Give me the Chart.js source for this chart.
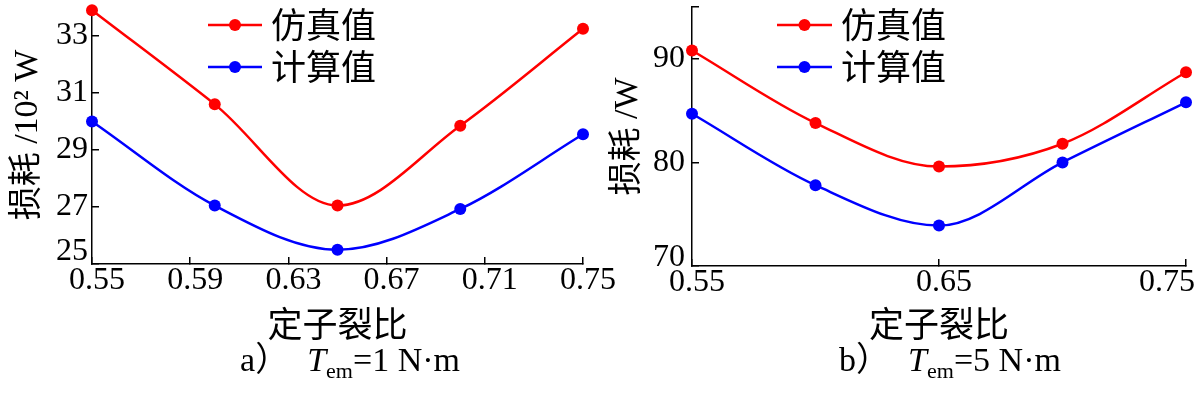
<!DOCTYPE html>
<html>
<head>
<meta charset="utf-8">
<script src="https://cdn.jsdelivr.net/npm/chart.js@4.4.0/dist/chart.umd.min.js"></script>
<style>
  body { margin: 0; background: #fff; }
  #wrap { position: relative; width: 1200px; height: 393px; overflow: hidden; background: #fff; }
  canvas { position: absolute; top: 0; }
  .cap {
    position: absolute; top: 343px; transform: translateX(-50%);
    white-space: nowrap; font: 34px/1 'Liberation Serif', 'Noto Sans CJK SC', serif; color: #000;
  }
  .cap .t { margin-left: 18px; }
  .cap sub { font-size: 22px; vertical-align: -7px; line-height: 0; }
</style>
</head>
<body>
<div id="wrap">
  <canvas id="chartA" width="620" height="345" style="left:0"></canvas>
  <canvas id="chartB" width="640" height="345" style="left:600px"></canvas>
  <div class="cap" style="left:350px">a）<span class="t"><i>T</i><sub>em</sub>=1 N·m</span></div>
  <div class="cap" style="left:950px">b）<span class="t"><i>T</i><sub>em</sub>=5 N·m</span></div>
</div>
<script>
// data
const ratio = [0.55, 0.60, 0.65, 0.70, 0.75];
const simA = [33.9, 30.6, 27.05, 29.85, 33.25];
const calcA = [30.0, 27.05, 25.5, 26.93, 29.55];
const simB = [90.8, 83.8, 79.6, 81.8, 88.7];
const calcB = [84.7, 77.8, 73.9, 80.0, 85.8];
const xTicksA = [0.55, 0.59, 0.63, 0.67, 0.71, 0.75];
const yTicksA = [25, 27, 29, 31, 33];
const xTicksB = [0.55, 0.65, 0.75];
const yTicksB = [70, 80, 90, 95];
const seriesNames = ['仿真值', '计算值'];

var serif = "'Liberation Serif', 'Noto Sans CJK SC', serif";
var cjk = "'Noto Sans CJK SC', sans-serif";

var toPoints = (ys) => ratio.map((x, i) => ({ x: x, y: ys[i] }));

// the builtin legend won't stack inside the plot, so draw it by hand
var innerLegend = {
  id: 'innerLegend',
  afterDatasetsDraw(chart, args, opts) {
    var ctx = chart.ctx;
    ctx.save();
    chart.data.datasets.forEach((ds, i) => {
      var y = opts.y + i * opts.gap;
      ctx.strokeStyle = ds.borderColor;
      ctx.lineWidth = 2.5;
      ctx.beginPath();
      ctx.moveTo(opts.x, y);
      ctx.lineTo(opts.x + opts.len, y);
      ctx.stroke();
      ctx.fillStyle = ds.borderColor;
      ctx.beginPath();
      ctx.arc(opts.x + opts.len / 2, y, 6, 0, Math.PI * 2);
      ctx.fill();
      ctx.fillStyle = '#000';
      ctx.font = '35px ' + cjk;
      ctx.textBaseline = 'middle';
      ctx.fillText(ds.label, opts.x + opts.len + 9, y);
    });
    ctx.restore();
  }
};

function makeChart(id, sim, calc, xTicks, yTicks, o) {
  return new Chart(document.getElementById(id), {
    type: 'line',
    data: {
      datasets: [
        { label: seriesNames[0], data: toPoints(sim), borderColor: '#ff0000', backgroundColor: '#ff0000' },
        { label: seriesNames[1], data: toPoints(calc), borderColor: '#0000ff', backgroundColor: '#0000ff' }
      ]
    },
    options: {
      responsive: false,
      animation: false,
      layout: { padding: { top: o.top, right: o.right, left: 0, bottom: 0 } },
      elements: {
        line: { borderWidth: 2.5, cubicInterpolationMode: 'monotone' },
        point: { radius: 6, hoverRadius: 6, borderWidth: 0 }
      },
      datasets: { line: { clip: false } },
      plugins: {
        legend: { display: false },
        tooltip: { enabled: false },
        innerLegend: o.legend
      },
      scales: {
        x: {
          type: 'linear',
          min: 0.55,
          max: 0.75,
          afterBuildTicks: (s) => { s.ticks = xTicks.map(v => ({ value: v })); },
          afterFit: (s) => { s.height = o.xh; s.paddingLeft = 0; s.paddingRight = 0; },
          border: { color: '#000', width: 1.5 },
          grid: { drawOnChartArea: false, tickLength: -7, color: '#000', lineWidth: 1.5 },
          ticks: {
            color: '#000',
            font: { family: serif, size: 32, lineHeight: 1 },
            padding: 8,
            labelOffset: 5,
            maxRotation: 0,
            autoSkip: false,
            callback: (v) => {
              var s = v.toFixed(2);
              return v === 0.75 ? s + o.lastPad : s;
            }
          },
          title: { display: true, text: '定子裂比', color: '#000', font: { family: cjk, size: 35 }, padding: 0 }
        },
        y: {
          min: o.ymin,
          max: o.ymax,
          afterBuildTicks: (s) => { s.ticks = yTicks.map(v => ({ value: v })); },
          afterFit: (s) => { s.width = 92; s.paddingTop = 0; s.paddingBottom = 0; },
          border: { color: '#000', width: 1.5 },
          grid: { drawOnChartArea: false, tickLength: -7, color: '#000', lineWidth: 1.5 },
          ticks: {
            color: '#000',
            font: { family: serif, size: 32, lineHeight: o.lh },
            padding: o.ypad,
            callback: (v) => {
              if (v === yTicks[0]) return [String(v), ''];  // nudge bottom label up
              if (o.hide.indexOf(v) >= 0) return '';
              return String(v);
            }
          },
          title: { display: true, text: o.ytitle, color: '#000', font: { family: serif, size: 34 }, padding: { top: 8, bottom: 0 } }
        }
      }
    },
    plugins: [innerLegend]
  });
}

var chartA = makeChart('chartA', simA, calcA, xTicksA, yTicksA, {
  top: 2, right: 37, xh: 81, ymin: 25, ymax: 34.05, lh: 0.75, ypad: 11, hide: [],
  lastPad: '', ytitle: '损耗 /10² W',
  legend: { x: 208, y: 25, gap: 42, len: 54 }
});

var chartB = makeChart('chartB', simB, calcB, xTicksB, yTicksB, {
  top: 7, right: 54, xh: 79, ymin: 70, ymax: 95, lh: 0.5, ypad: 14, hide: [95],
  lastPad: '\u2003\u2002', ytitle: '损耗 /W',
  legend: { x: 177, y: 25, gap: 42, len: 55 }
});
</script>
</body>
</html>
